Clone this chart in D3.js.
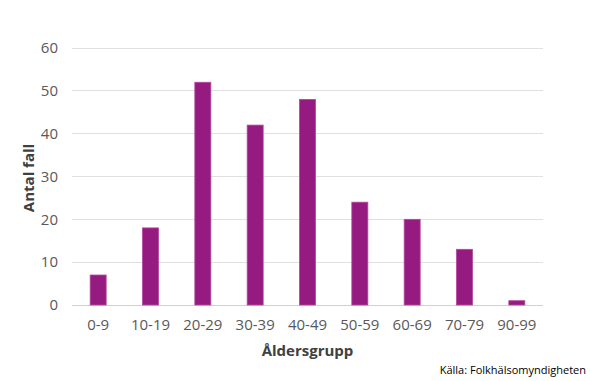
<!DOCTYPE html>
<html><head><meta charset="utf-8">
<script src="https://cdn.jsdelivr.net/npm/d3@7"></script>
<style>body{margin:0;background:#fff}svg text{font-family:"Open Sans","Noto Sans",sans-serif}</style>
</head><body><svg id="c" width="590" height="381"></svg>
<script>
const categories = ["0-9","10-19","20-29","30-39","40-49","50-59","60-69","70-79","90-99"];
const values = [7,18,52,42,48,24,20,13,1];
const yTicks = [0,10,20,30,40,50,60];

const svg = d3.select("#c");
const m = {l:72, r:47, t:48, b:76};
const W = 590, H = 381;
const x = d3.scaleBand().domain(categories).range([m.l, W-m.r]).paddingInner(0.69).paddingOuter(0.345);
const y = d3.scaleLinear().domain([0,60]).range([H-m.b, m.t]);

svg.append("g").selectAll("line").data(yTicks).join("line")
  .attr("x1", m.l).attr("x2", W-m.r)
  .attr("y1", d=>y(d)).attr("y2", d=>y(d))
  .attr("stroke", d=> d===0 ? "#d0d0d0" : "#e0e0e0").attr("stroke-width",1)
  .attr("shape-rendering","crispEdges");

const bw = 16;
svg.append("g").selectAll("rect").data(values).join("rect")
  .attr("x", (d,i)=> x(categories[i]) + x.bandwidth()/2 - bw/2)
  .attr("width", bw)
  .attr("y", d=>y(d))
  .attr("height", d=>y(0)-y(d))
  .attr("fill","#951b80").attr("stroke","#b4479f").attr("stroke-width",0.8);

const yAxis = d3.axisLeft(y).tickValues(yTicks).tickSize(0).tickPadding(14);
const ga = svg.append("g").attr("transform",`translate(${m.l},0)`).call(yAxis);
ga.select(".domain").remove();
ga.selectAll("text").attr("fill","#595959").style("font-size","15px");

const xAxis = d3.axisBottom(x).tickSize(0).tickPadding(14);
const gx = svg.append("g").attr("transform",`translate(0,${y(0)})`).call(xAxis);
gx.select(".domain").remove();
gx.selectAll("text").attr("fill","#595959").style("font-size","15px");

svg.append("text").attr("x",(m.l+W-m.r)/2).attr("y",356).attr("text-anchor","middle")
  .attr("fill","#404040").style("font-size","15px").style("font-weight","bold").text("Åldersgrupp");
svg.append("text").attr("transform",`translate(34,178) rotate(-90)`).attr("text-anchor","middle")
  .attr("fill","#404040").style("font-size","15px").style("font-weight","bold").text("Antal fall");
svg.append("text").attr("x",586).attr("y",374).attr("text-anchor","end")
  .attr("fill","#000").style("font-size","11px").text("Källa:  Folkhälsomyndigheten");
</script></body></html>
